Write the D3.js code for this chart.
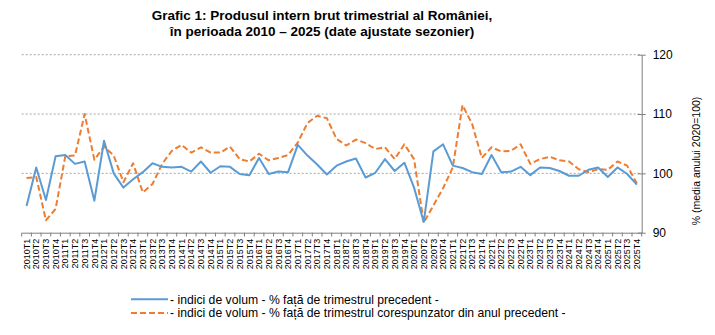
<!DOCTYPE html>
<html><head><meta charset="utf-8">
<script src="https://cdn.jsdelivr.net/npm/d3@7"></script>
<style>body{margin:0;background:#fff}svg{display:block}</style>
</head><body>
<script>
const years = d3.range(2010, 2026);
const quarters = years.flatMap(y => [1,2,3,4].map(q => `${y}T${q}`));
const qoq = [94.5,101.0,95.5,102.9,103.1,101.6,102.0,95.4,105.5,100.0,97.6,99.0,100.2,101.7,101.1,101.0,
  101.1,100.3,102.0,100.1,101.2,101.1,99.9,99.7,102.6,99.9,100.3,100.2,104.8,103.0,101.5,99.8,
  101.3,102.0,102.5,99.3,100.1,102.4,100.4,101.8,97.6,91.8,103.7,104.9,101.3,100.9,
  100.2,99.9,103.1,100.2,100.3,101.1,99.7,101.0,100.9,100.4,99.6,99.6,100.6,101.0,99.4,101.0,99.9,98.1];
const yoy = [99.2,99.4,92.1,94.0,102.9,103.0,110.0,102.3,104.5,103.0,98.5,101.7,96.8,98.2,101.6,103.8,
  104.8,103.5,104.4,103.5,103.5,104.5,102.4,102.0,103.3,102.2,102.6,103.1,105.2,108.5,109.7,109.3,
  105.8,104.7,105.7,105.1,104.1,104.4,102.4,104.9,102.4,91.7,94.6,97.5,101.0,111.5,
  108.3,102.6,104.4,103.7,103.8,104.9,101.6,102.4,102.8,102.2,102.0,100.7,100.2,100.7,100.6,102.0,101.3,98.3];
const yTicks = [90, 100, 110, 120];
const titleLines = ["Grafic 1: Produsul intern brut trimestrial al României,", "în perioada 2010 – 2025 (date ajustate sezonier)"];
const legendLabels = ["- indici de volum - % față de trimestrul precedent -", "- indici de volum - % față de trimestrul corespunzator din anul precedent -"];
const yLabel = "% (media anului 2020=100)";

const W = 715, H = 335;
const svg = d3.select("body").append("svg").attr("width", W).attr("height", H)
  .style("font-family", "'Liberation Sans', Arial, sans-serif");
const x = d3.scaleBand().domain(quarters).range([21.7, 641.7]);
const y = d3.scaleLinear().domain([90, 120]).range([232.7, 54.7]);
const cx = d => x(d) + x.bandwidth() / 2;

// title
svg.append("g").selectAll("text").data(titleLines).join("text")
  .attr("x", 322).attr("y", (d, i) => 20 + i * 16).attr("text-anchor", "middle")
  .attr("font-weight", "bold").attr("font-size", 13.5).attr("fill", "#000").text(d => d);

// gridlines
svg.append("g").selectAll("line").data(yTicks.filter(t => t > 90)).join("line")
  .attr("x1", 21.7).attr("x2", 641.7).attr("y1", d => y(d)).attr("y2", d => y(d))
  .attr("stroke", "#a6a6a6").attr("stroke-width", 1).attr("stroke-dasharray", "2,2");

// right axis
const ya = svg.append("g").attr("transform", "translate(641.7,0)")
  .call(d3.axisRight(y).tickValues(yTicks).tickSize(4).tickSizeOuter(0).tickPadding(7));
ya.select(".domain").attr("stroke", "#7f7f7f");
ya.selectAll(".tick line").attr("stroke", "#7f7f7f").attr("x1", -4);
ya.selectAll("text").attr("font-size", 12).attr("fill", "#000")
  .attr("font-family", "'Liberation Sans', Arial, sans-serif");

svg.append("text").attr("transform", "translate(700,161) rotate(-90)")
  .attr("text-anchor", "middle").attr("font-size", 10.5).attr("fill", "#000").text(yLabel);

// bottom axis
const xa = svg.append("g").attr("transform", "translate(0,232.7)")
  .call(d3.axisBottom(x).tickSize(0).tickPadding(0));
xa.select(".domain").attr("stroke", "#7f7f7f");
xa.selectAll(".tick text").attr("font-size", 9).attr("fill", "#000")
  .attr("font-family", "'Liberation Sans', Arial, sans-serif")
  .attr("text-anchor", "end").attr("dy", null)
  .attr("transform", "translate(3.2,6) rotate(-90)");
svg.append("g").selectAll("line").data(d3.range(quarters.length + 1)).join("line")
  .attr("x1", i => 21.7 + i * x.step()).attr("x2", i => 21.7 + i * x.step())
  .attr("y1", 232.7).attr("y2", 236.5).attr("stroke", "#7f7f7f");

// lines
const line = data => d3.line().x((d, i) => cx(quarters[i])).y(d => y(d))(data);
svg.append("path").attr("d", line(yoy)).attr("fill", "none").attr("stroke", "#ed7d31")
  .attr("stroke-width", 2).attr("stroke-dasharray", "6,3").attr("stroke-linejoin", "round");
svg.append("path").attr("d", line(qoq)).attr("fill", "none").attr("stroke", "#5b9bd5")
  .attr("stroke-width", 2).attr("stroke-linejoin", "round");

// legend
const lg = svg.append("g");
const colors = ["#5b9bd5", "#ed7d31"];
const dashes = [null, "6,3"];
legendLabels.forEach((t, i) => {
  const yy = 299.3 + i * 13.8;
  lg.append("line").attr("x1", 131).attr("x2", 168).attr("y1", yy).attr("y2", yy)
    .attr("stroke", colors[i]).attr("stroke-width", 2).attr("stroke-dasharray", dashes[i]);
  lg.append("text").attr("x", 170).attr("y", yy + 4.2).attr("font-size", 12.2).attr("fill", "#000").text(t);
});
</script>
</body></html>
